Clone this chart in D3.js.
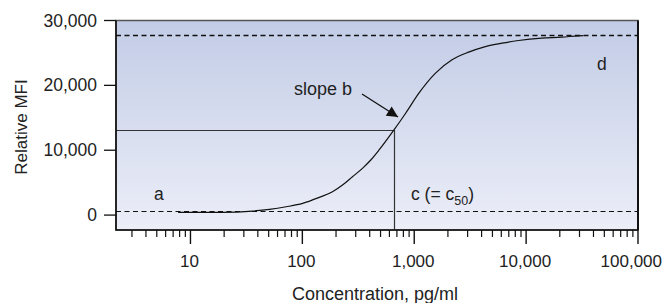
<!DOCTYPE html>
<html lang="en">
<head>
<meta charset="utf-8">
<title>Dose response curve</title>
<script src="https://cdn.jsdelivr.net/npm/d3@7"></script>
<style>
  body { margin: 0; background: #fff; }
  text { font-family: "Liberation Sans", Arial, sans-serif; fill: #222; }
</style>
</head>
<body>
<script>
// values
var concValues = [7.75, 18.9, 36, 50.8, 71.6, 100.7, 141.6, 186, 228.6, 280.5, 344.5, 409, 485, 659, 838, 1101, 1549, 2178, 3066, 4321, 6083, 8557, 13800, 20800, 29300, 32400];
var mfiValues = [420, 420, 620, 880, 1282, 1806, 2733, 3600, 4632, 5913, 7210, 8492, 10036, 13124, 15702, 18790, 21878, 23932, 25120, 25984, 26510, 26912, 27280, 27430, 27640, 27680];
var xTickValues = [10, 100, 1000, 10000, 100000];
var xTickLabels = ["10", "100", "1,000", "10,000", "100,000"];
var yTickValues = [0, 10000, 20000, 30000];
var yTickLabels = ["0", "10,000", "20,000", "30,000"];
var bottomAsym = 600;   // a
var topAsym = 27700;    // d
var c50 = 659;
var c50Mfi = 13124;

var w = 666, h = 303;
var pLeft = 116, pRight = 638, pTop = 20.5, pBottom = 230;

var x = d3.scaleLog().domain([2.16, 100000]).range([pLeft, pRight]);
var y = d3.scaleLinear().domain([-2300, 30000]).range([pBottom, pTop]);

var svg = d3.select("body").append("svg")
  .attr("width", w).attr("height", h);

var defs = svg.append("defs");
var grad = defs.append("linearGradient")
  .attr("id", "bg").attr("x1", 0).attr("y1", 0).attr("x2", 0).attr("y2", 1);
grad.append("stop").attr("offset", "0%").attr("stop-color", "#c2cce6");
grad.append("stop").attr("offset", "100%").attr("stop-color", "#eceef8");

// plot background + frame
svg.append("rect")
  .attr("x", pLeft).attr("y", pTop)
  .attr("width", pRight - pLeft).attr("height", pBottom - pTop)
  .attr("fill", "url(#bg)")
  .attr("stroke", "#555").attr("stroke-width", 1.5);

// dashed asymptotes
[bottomAsym, topAsym].forEach(function(v, i) {
  var yy = Math.round(y(v)) + 0.5;
  svg.append("line")
    .attr("x1", pLeft).attr("x2", pRight)
    .attr("y1", yy).attr("y2", yy)
    .attr("stroke", "#111")
    .attr("stroke-width", i ? 1.5 : 1)
    .attr("stroke-dasharray", "5,3.5");
});

// c50 guide lines
var gx = Math.round(x(c50)) + 0.5, gy = Math.round(y(c50Mfi)) + 0.5;
svg.append("path")
  .attr("d", "M" + pLeft + "," + gy + "H" + gx + "V" + pBottom)
  .attr("fill", "none").attr("stroke", "#333").attr("stroke-width", 1.2);

// curve
var line = d3.line()
  .x(function(d) { return x(d[0]); })
  .y(function(d) { return y(d[1]); })
  .curve(d3.curveMonotoneX);

svg.append("path")
  .datum(d3.zip(concValues, mfiValues))
  .attr("d", line)
  .attr("fill", "none").attr("stroke", "#111").attr("stroke-width", 1.2);

// x axis: minor + major ticks
var minor = [];
for (var e = 0; e < 5; e++) {
  for (var m = 2; m <= 9; m++) {
    var v = m * Math.pow(10, e);
    if (v >= x.domain()[0]) minor.push(v);
  }
}
svg.selectAll("line.minor").data(minor).enter().append("line")
  .attr("class", "minor")
  .attr("x1", function(d) { return x(d); }).attr("x2", function(d) { return x(d); })
  .attr("y1", pBottom).attr("y2", pBottom + 7)
  .attr("stroke", "#111").attr("stroke-width", 1.2);

svg.selectAll("line.major").data(xTickValues).enter().append("line")
  .attr("class", "major")
  .attr("x1", function(d) { return x(d); }).attr("x2", function(d) { return x(d); })
  .attr("y1", pBottom).attr("y2", pBottom + 14)
  .attr("stroke", "#111").attr("stroke-width", 1.4);

svg.selectAll("text.xlab").data(xTickValues).enter().append("text")
  .attr("class", "xlab")
  .attr("x", function(d, i) { return i === xTickValues.length - 1 ? 662 : x(d) - 1; })
  .attr("y", 267)
  .attr("text-anchor", function(d, i) { return i === xTickValues.length - 1 ? "end" : "middle"; })
  .attr("font-size", 17)
  .text(function(d, i) { return xTickLabels[i]; });

// y axis ticks
svg.selectAll("line.ytick").data(yTickValues).enter().append("line")
  .attr("class", "ytick")
  .attr("x1", pLeft - 12).attr("x2", pLeft)
  .attr("y1", function(d) { return y(d); }).attr("y2", function(d) { return y(d); })
  .attr("stroke", "#111").attr("stroke-width", 1.3);

svg.selectAll("text.ylab").data(yTickValues).enter().append("text")
  .attr("class", "ylab")
  .attr("x", 97).attr("y", function(d) { return y(d) + 6; })
  .attr("text-anchor", "end").attr("font-size", 17.5)
  .text(function(d, i) { return yTickLabels[i]; });

// axis lines
svg.append("path")
  .attr("d", "M" + pLeft + "," + pTop + "V" + pBottom + "H" + pRight)
  .attr("fill", "none").attr("stroke", "#111").attr("stroke-width", 1.6);
svg.append("line")
  .attr("x1", pRight).attr("x2", pRight).attr("y1", pTop).attr("y2", pBottom)
  .attr("stroke", "#111").attr("stroke-width", 2);

// axis titles
svg.append("text")
  .attr("x", 375).attr("y", 300)
  .attr("text-anchor", "middle").attr("font-size", 18)
  .text("Concentration, pg/ml");
svg.append("text")
  .attr("transform", "translate(27,127) rotate(-90)")
  .attr("text-anchor", "middle").attr("font-size", 17)
  .text("Relative MFI");

// annotations
svg.append("text").attr("x", 154).attr("y", 200).attr("font-size", 17.5).text("a");
svg.append("text").attr("x", 597).attr("y", 70).attr("font-size", 17.5).text("d");
svg.append("text").attr("x", 294).attr("y", 95).attr("font-size", 18).text("slope b");

var cLab = svg.append("text").attr("x", 411).attr("y", 200).attr("font-size", 17.5);
cLab.append("tspan").text("c (= c");
cLab.append("tspan").attr("font-size", 12.5).attr("dy", 5).text("50");
cLab.append("tspan").attr("dy", -5).text(")");

// arrow to the curve
defs.append("marker")
  .attr("id", "head").attr("viewBox", "0 0 10 10")
  .attr("refX", 10).attr("refY", 5)
  .attr("markerWidth", 13).attr("markerHeight", 11)
  .attr("markerUnits", "userSpaceOnUse")
  .attr("orient", "auto")
  .append("path").attr("d", "M0,0L10,5L0,10Z").attr("fill", "#111");

svg.append("line")
  .attr("x1", 362).attr("y1", 94).attr("x2", 398).attr("y2", 117)
  .attr("stroke", "#111").attr("stroke-width", 1.3)
  .attr("marker-end", "url(#head)");
</script>
</body>
</html>
